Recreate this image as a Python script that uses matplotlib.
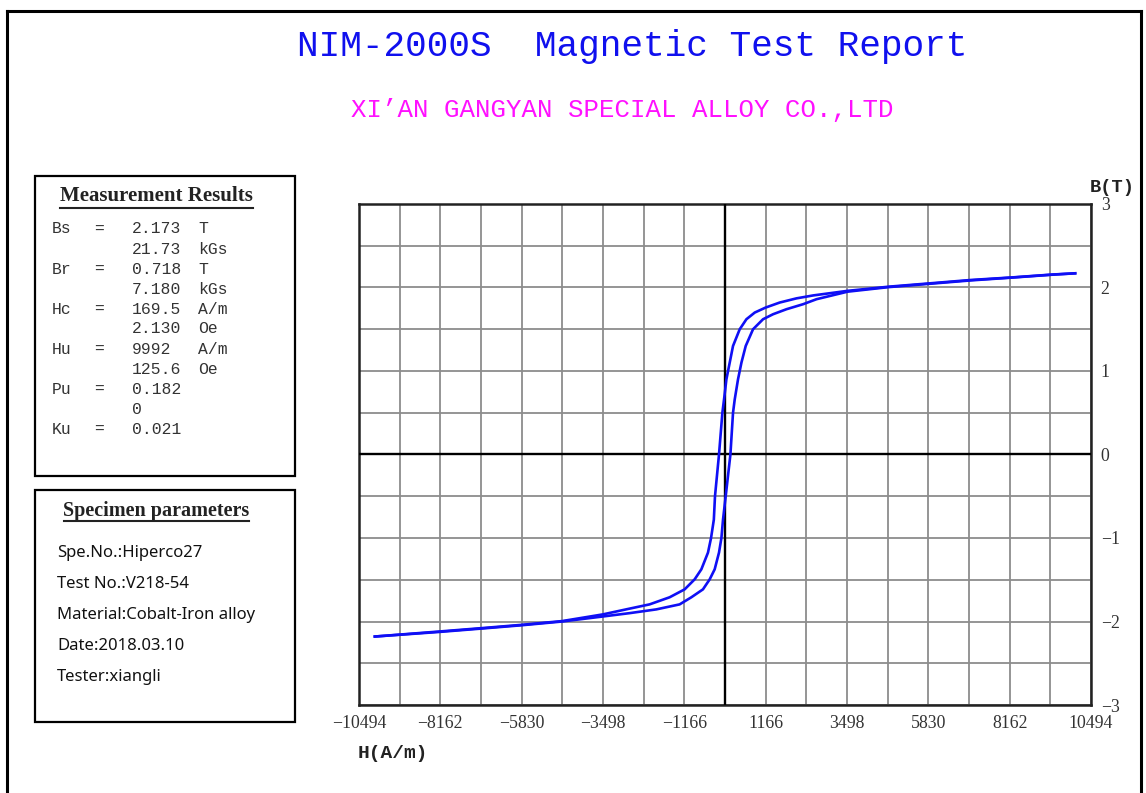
import matplotlib
matplotlib.use("Agg")
import matplotlib.pyplot as plt
from matplotlib.patches import Rectangle
from matplotlib.lines import Line2D
import numpy as np

W, H = 1146, 793

title = "NIM-2000S  Magnetic Test Report"
subtitle = "XI\u2019AN GANGYAN SPECIAL ALLOY CO.,LTD"

# descending branch (from +Hmax to -Hmax)
upper_H = [10040, 9374, 8205, 7048, 5879, 4701, 3515, 2528, 2050, 1570, 1166, 853, 614,
           422, 230, 135, 40, -10, -75, -172, -287, -320, -400, -488, -678, -870, -1157,
           -1588, -2163, -2737, -3504, -4670, -5830, -6996, -8194, -10040]
upper_B = [2.17, 2.155, 2.12, 2.09, 2.05, 2.01, 1.96, 1.905, 1.87, 1.82, 1.76, 1.70, 1.62,
           1.50, 1.30, 1.10, 0.90, 0.72, 0.50, 0.0, -0.50, -0.78, -1.00, -1.175, -1.375,
           -1.495, -1.615, -1.71, -1.795, -1.846, -1.915, -1.995, -2.04, -2.08, -2.12, -2.18]
# ascending branch (from -Hmax to +Hmax)
lower_H = [-10040, -8194, -6996, -5830, -4670, -3504, -2737, -1970, -1301, -965, -632, -439,
           -296, -172, -103, -57, 20, 155, 230, 279, 373, 471, 594, 804, 1091, 1379, 1763,
           2240, 2625, 3515, 4701, 5879, 7048, 8205, 9374, 10040]
lower_B = [-2.18, -2.125, -2.085, -2.045, -2.0, -1.94, -1.90, -1.855, -1.795, -1.71, -1.615,
           -1.495, -1.375, -1.175, -1.0, -0.78, -0.5, 0.0, 0.5, 0.66, 0.90, 1.10, 1.30, 1.50,
           1.62, 1.68, 1.74, 1.80, 1.86, 1.95, 2.005, 2.045, 2.085, 2.118, 2.153, 2.17]

x_ticks = [-10494, -8162, -5830, -3498, -1166, 1166, 3498, 5830, 8162, 10494]
x_grid_step = 1166
y_ticks = [-3, -2, -1, 0, 1, 2, 3]
y_grid_step = 0.5

meas_rows = [("Bs", "=", "2.173", "T"), ("", "", "21.73", "kGs"),
             ("Br", "=", "0.718", "T"), ("", "", "7.180", "kGs"),
             ("Hc", "=", "169.5", "A/m"), ("", "", "2.130", "Oe"),
             ("Hu", "=", "9992", "A/m"), ("", "", "125.6", "Oe"),
             ("Pu", "=", "0.182", ""), ("", "", "0", ""),
             ("Ku", "=", "0.021", "")]

spec_lines = ["Spe.No.:Hiperco27", "Test No.:V218-54", "Material:Cobalt-Iron alloy",
              "Date:2018.03.10", "Tester:xiangli"]

fig = plt.figure(figsize=(W / 100, H / 100), dpi=100)
fig.patch.set_facecolor("white")


def fx(px):
    return px / W


def fy(py):
    return 1 - py / H


# outer page frame
for (x0, y0, x1, y1) in [(7, 11, 1141, 11), (7, 11, 7, 800), (1141, 11, 1141, 800)]:
    fig.add_artist(Line2D([fx(x0), fx(x1)], [fy(y0), fy(y1)], color="black", lw=2.2,
                          transform=fig.transFigure))

fig.text(fx(632), fy(47), title, color="#1010ee", fontsize=26, family="Liberation Mono",
         ha="center", va="center")
fig.text(fx(622), fy(110), subtitle, color="#ff10ff", fontsize=18.5, family="Liberation Mono",
         ha="center", va="center")

# Measurement results box
fig.add_artist(Rectangle((fx(35), fy(476)), (295 - 35) / W, (476 - 176) / H, fill=False,
                         ec="black", lw=1.6, transform=fig.transFigure))
fig.text(fx(156.5), fy(196), "Measurement Results", family="Liberation Serif",
         weight="bold", fontsize=15, ha="center", va="center", color="#222222")
fig.add_artist(Line2D([fx(60), fx(253)], [fy(208), fy(208)], color="#222222", lw=1.5,
                      transform=fig.transFigure))
for i, (lab, eq, val, unit) in enumerate(meas_rows):
    yy = fy(229 + i * 20.0)
    for xx, s in [(52, lab), (94, eq), (132, val), (198, unit)]:
        if s:
            fig.text(fx(xx), yy, s, family="Liberation Mono", fontsize=11.8, ha="left",
                     va="center", color="#333333")

# Specimen parameters box
fig.add_artist(Rectangle((fx(35), fy(722)), (295 - 35) / W, (722 - 490) / H, fill=False,
                         ec="black", lw=1.6, transform=fig.transFigure))
fig.text(fx(156.5), fy(511), "Specimen parameters", family="Liberation Serif",
         weight="bold", fontsize=14.5, ha="center", va="center", color="#222222")
fig.add_artist(Line2D([fx(64), fx(249)], [fy(521), fy(521)], color="#222222", lw=1.5,
                      transform=fig.transFigure))
for i, s in enumerate(spec_lines):
    fig.text(fx(57), fy(553 + i * 31), s, family="Noto Sans", fontsize=12, ha="left",
             va="center", color="#111111")

# main plot
ax = fig.add_axes([fx(359), fy(705), (1091 - 359) / W, (705 - 204) / H])
ax.plot(upper_H, upper_B, color="#0f0ff5", lw=1.9, zorder=4)
ax.plot(lower_H, lower_B, color="#0f0ff5", lw=1.9, zorder=4)
ax.set_xlim(x_ticks[0], x_ticks[-1])
ax.set_ylim(y_ticks[0], y_ticks[-1])
ax.set_xticks(x_ticks)
ax.set_xticklabels([str(v).replace("-", "\u2212") for v in x_ticks])
ax.set_xticks(np.arange(-9, 10) * x_grid_step, minor=True)
ax.yaxis.tick_right()
ax.set_yticks(y_ticks)
ax.set_yticklabels([str(v).replace("-", "\u2212") for v in y_ticks])
ax.set_yticks(np.arange(-6, 7) * y_grid_step, minor=True)
ax.tick_params(which="both", length=0)
ax.tick_params(axis="x", pad=7)
ax.tick_params(axis="y", pad=7)
for lab in ax.get_xticklabels() + ax.get_yticklabels():
    lab.set_family("Liberation Serif")
    lab.set_fontsize(12.8)
    lab.set_color("#333333")
ax.grid(which="both", color="#8c8c8c", lw=1.3, zorder=1)
ax.set_axisbelow(True)
ax.axhline(0, color="black", lw=1.7, zorder=3)
ax.axvline(0, color="black", lw=1.7, zorder=3)
for sp in ax.spines.values():
    sp.set_color("#222222")
    sp.set_linewidth(1.8)

fig.text(fx(1090), fy(187), "B(T)", family="Liberation Mono", weight="bold", fontsize=13.5,
         ha="left", va="center", color="#222222")
fig.text(fx(358), fy(753), "H(A/m)", family="Liberation Mono", weight="bold", fontsize=14,
         ha="left", va="center", color="#222222")

fig.savefig("out.png", dpi=100, facecolor="white")
